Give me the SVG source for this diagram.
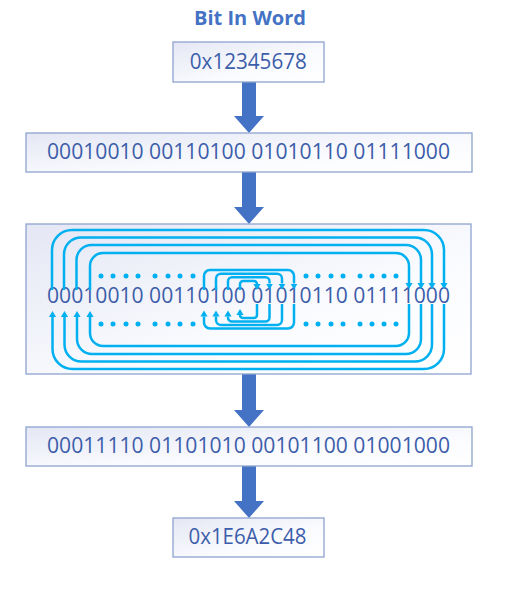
<svg xmlns="http://www.w3.org/2000/svg" width="509" height="592" viewBox="0 0 509 592">
<style>
.box{stroke:#8EA3D0;stroke-width:1.3;fill:url(#bg)}
.t{font-family:"Open Sans","Liberation Sans",sans-serif;font-size:21px;fill:#3C5DAA;text-anchor:middle}
.title{font-family:"Open Sans","Liberation Sans",sans-serif;font-size:19.5px;font-weight:bold;fill:#4472C4;text-anchor:middle}
.blk{fill:#4472C4}
.sw{fill:none;stroke:#00B0F0;stroke-width:2.5}
.ar{marker-end:url(#ah)}
.dot{fill:#00B0F0}
</style>
<defs>
<linearGradient id="bg" x1="0" y1="0" x2="1" y2="1">
<stop offset="0" stop-color="#E4E7F4"/>
<stop offset="0.6" stop-color="#FAFBFE"/>
<stop offset="1" stop-color="#FFFFFF"/>
</linearGradient>
<marker id="ah" markerUnits="userSpaceOnUse" markerWidth="8" markerHeight="8" refX="0" refY="4" orient="auto">
<path d="M0,0.4 L6,4 L0,7.6 z" fill="#00B0F0"/>
</marker>
</defs>
<rect width="509" height="592" fill="#FFFFFF"/>
<text class="title" x="250" y="25" textLength="112" lengthAdjust="spacingAndGlyphs">Bit In Word</text>

<g id="connectors">
<polygon class="blk" points="242,82 256,82 256,116 264,116 249,133 234,116 242,116"/>
<polygon class="blk" points="242,172 256,172 256,207 264,207 249,224 234,207 242,207"/>
<polygon class="blk" points="242,374 256,374 256,410 264,410 249,427 234,410 242,410"/>
<polygon class="blk" points="242,466 256,466 256,501 264,501 249,518 234,501 242,501"/>
</g>

<g id="node-hex-in">
<rect class="box" x="173" y="42" width="151" height="40"/>
<text class="t" x="248.3" y="68.5" textLength="117" lengthAdjust="spacingAndGlyphs">0x12345678</text>
</g>

<g id="node-bin-in">
<rect class="box" x="26" y="133" width="446" height="39"/>
<text class="t" x="248.5" y="159" textLength="403" lengthAdjust="spacingAndGlyphs">00010010 00110100 01010110 01111000</text>
</g>

<g id="node-reverse">
<rect class="box" x="26" y="224" width="445" height="150"/>
<text class="t" x="248.5" y="303" textLength="403" lengthAdjust="spacingAndGlyphs">00010010 00110100 01010110 01111000</text>
<g id="bit-swaps">
<path class="sw ar" d="M52,290 V250 A20,20 0 0 1 72,230 H424 A20,20 0 0 1 444,250 V283"/>
<path class="sw ar" d="M64,290 V254.5 A17,17 0 0 1 81,237.5 H415 A17,17 0 0 1 432,254.5 V283"/>
<path class="sw ar" d="M76.5,290 V260 A15,15 0 0 1 91.5,245 H406 A15,15 0 0 1 421,260 V283"/>
<path class="sw ar" d="M90,290 V266 A13,13 0 0 1 103,253 H396 A13,13 0 0 1 409,266 V283"/>
<path class="sw ar" d="M444,304 V349 A20,20 0 0 1 424,369 H72.5 A20,20 0 0 1 52.5,349 V317"/>
<path class="sw ar" d="M432,304 V344.5 A17,17 0 0 1 415,361.5 H81.5 A17,17 0 0 1 64.5,344.5 V317"/>
<path class="sw ar" d="M421,304 V339 A15,15 0 0 1 406,354 H92 A15,15 0 0 1 77,339 V317"/>
<path class="sw ar" d="M409,304 V333 A13,13 0 0 1 396,346 H103 A13,13 0 0 1 90,333 V317"/>
<path class="sw ar" d="M204,290 V276 A6,6 0 0 1 210,270 H288 A6,6 0 0 1 294,276 V283.5"/>
<path class="sw ar" d="M216,290 V278.7 A5,5 0 0 1 221,273.7 H277 A5,5 0 0 1 282,278.7 V283.5"/>
<path class="sw ar" d="M228,290 V281.3 A4,4 0 0 1 232,277.3 H265.5 A4,4 0 0 1 269.5,281.3 V283.5"/>
<path class="sw ar" d="M240,290 V284 A3,3 0 0 1 243,281 H254 A3,3 0 0 1 257,284"/>
<path class="sw ar" d="M294,304 V322.5 A6,6 0 0 1 288,328.5 H210 A6,6 0 0 1 204,322.5 V316.5"/>
<path class="sw ar" d="M282,304 V320 A5,5 0 0 1 277,325 H221 A5,5 0 0 1 216,320 V316.5"/>
<path class="sw ar" d="M269.5,304 V317.5 A4,4 0 0 1 265.5,321.5 H232 A4,4 0 0 1 228,317.5 V316.5"/>
<path class="sw ar" d="M257,304 V315 A3,3 0 0 1 254,318 H243 A3,3 0 0 1 240,315"/>
</g>
<g id="dots">
<circle class="dot" cx="101" cy="276" r="2.5"/><circle class="dot" cx="113" cy="276" r="2.5"/><circle class="dot" cx="126" cy="276" r="2.5"/><circle class="dot" cx="138" cy="276" r="2.5"/>
<circle class="dot" cx="155" cy="276" r="2.5"/><circle class="dot" cx="168" cy="276" r="2.5"/><circle class="dot" cx="180" cy="276" r="2.5"/><circle class="dot" cx="193" cy="276" r="2.5"/>
<circle class="dot" cx="306" cy="276" r="2.5"/><circle class="dot" cx="318" cy="276" r="2.5"/><circle class="dot" cx="331" cy="276" r="2.5"/><circle class="dot" cx="343" cy="276" r="2.5"/>
<circle class="dot" cx="360" cy="276" r="2.5"/><circle class="dot" cx="372" cy="276" r="2.5"/><circle class="dot" cx="384" cy="276" r="2.5"/><circle class="dot" cx="396" cy="276" r="2.5"/>
<circle class="dot" cx="101" cy="324" r="2.5"/><circle class="dot" cx="113" cy="324" r="2.5"/><circle class="dot" cx="126" cy="324" r="2.5"/><circle class="dot" cx="138" cy="324" r="2.5"/>
<circle class="dot" cx="155" cy="324" r="2.5"/><circle class="dot" cx="168" cy="324" r="2.5"/><circle class="dot" cx="180" cy="324" r="2.5"/><circle class="dot" cx="193" cy="324" r="2.5"/>
<circle class="dot" cx="306" cy="324" r="2.5"/><circle class="dot" cx="318" cy="324" r="2.5"/><circle class="dot" cx="331" cy="324" r="2.5"/><circle class="dot" cx="343" cy="324" r="2.5"/>
<circle class="dot" cx="360" cy="324" r="2.5"/><circle class="dot" cx="372" cy="324" r="2.5"/><circle class="dot" cx="384" cy="324" r="2.5"/><circle class="dot" cx="396" cy="324" r="2.5"/>
</g>
</g>

<g id="node-bin-out">
<rect class="box" x="26" y="427" width="446" height="39"/>
<text class="t" x="248.5" y="453" textLength="403" lengthAdjust="spacingAndGlyphs">00011110 01101010 00101100 01001000</text>
</g>

<g id="node-hex-out">
<rect class="box" x="173" y="518" width="151" height="39"/>
<text class="t" x="247.5" y="544" textLength="118" lengthAdjust="spacingAndGlyphs">0x1E6A2C48</text>
</g>
</svg>
